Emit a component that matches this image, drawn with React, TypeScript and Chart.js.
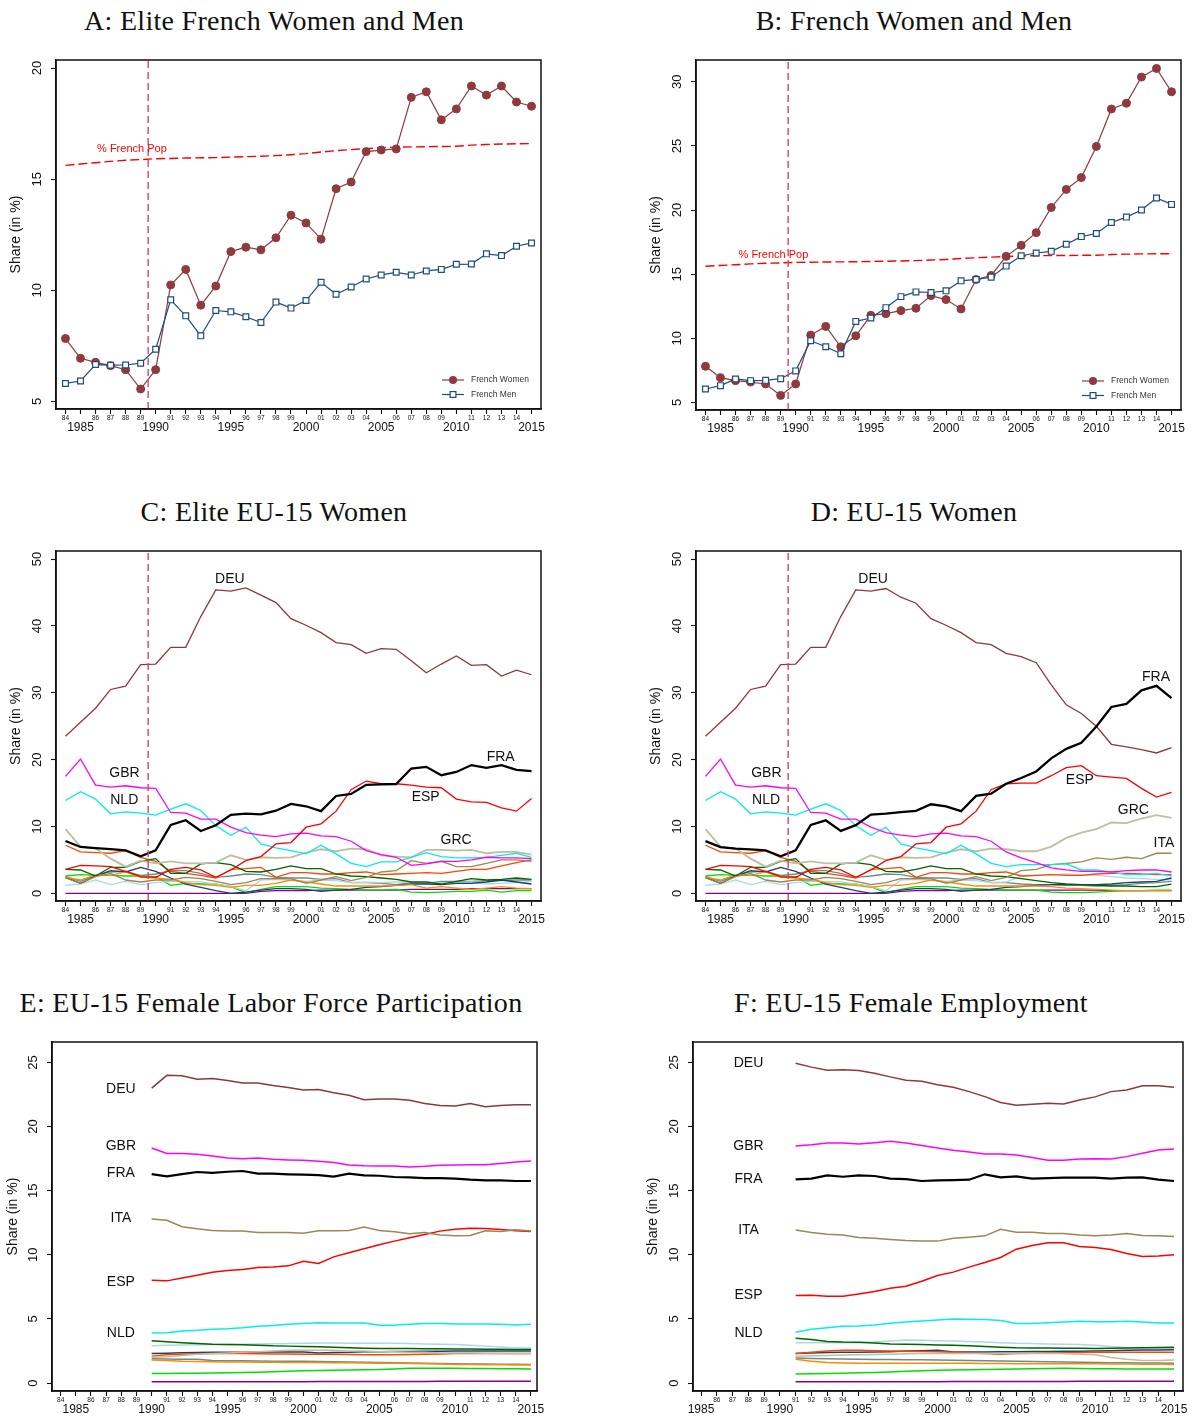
import React, { useEffect, useRef } from "react";
import { Chart, registerables } from "chart.js";
Chart.register(...registerables);

const FONT = '"Liberation Sans", Arial, Helvetica, sans-serif';

// ---------- x categories ----------
const YEARS = [1984, 1985, 1986, 1987, 1988, 1989, 1990, 1991, 1992, 1993, 1994, 1995, 1996, 1997, 1998, 1999, 2000, 2001, 2002, 2003, 2004, 2005, 2006, 2007, 2008, 2009, 2010, 2011, 2012, 2013, 2014, 2015];
const YEARS_E = [1990, 1991, 1992, 1993, 1994, 1995, 1996, 1997, 1998, 1999, 2000, 2001, 2002, 2003, 2004, 2005, 2006, 2007, 2008, 2009, 2010, 2011, 2012, 2013, 2014, 2015];
const YEARS_F = [1991, 1992, 1993, 1994, 1995, 1996, 1997, 1998, 1999, 2000, 2001, 2002, 2003, 2004, 2005, 2006, 2007, 2008, 2009, 2010, 2011, 2012, 2013, 2014, 2015];
const AXIS_YEARS_F = [1985, 1986, 1987, 1988, 1989, 1990, 1991, 1992, 1993, 1994, 1995, 1996, 1997, 1998, 1999, 2000, 2001, 2002, 2003, 2004, 2005, 2006, 2007, 2008, 2009, 2010, 2011, 2012, 2013, 2014, 2015];

// ---------- y tick labels ----------
const TICKS_A = [5, 10, 15, 20];
const TICKS_B = [5, 10, 15, 20, 25, 30];
const TICKS_CD = [0, 10, 20, 30, 40, 50];
const TICKS_EF = [0, 5, 10, 15, 20, 25];
const VLINE_YEAR = 1989.5;

// ---------- Panel A / B ----------
const A_WOMEN = [7.83, 6.94, 6.76, 6.61, 6.43, 5.56, 6.43, 10.24, 10.94, 9.33, 10.19, 11.74, 11.94, 11.82, 12.36, 13.38, 13.03, 12.3, 14.57, 14.87, 16.24, 16.31, 16.36, 18.68, 18.93, 17.67, 18.16, 19.19, 18.78, 19.19, 18.47, 18.28];
const A_MEN = [5.81, 5.92, 6.66, 6.63, 6.64, 6.72, 7.35, 9.57, 8.85, 7.95, 9.09, 9.03, 8.81, 8.55, 9.47, 9.2, 9.54, 10.36, 9.82, 10.15, 10.51, 10.69, 10.81, 10.69, 10.87, 10.94, 11.17, 11.18, 11.64, 11.56, 11.98, 12.13];
const FRENCH_POP = [15.62, 15.68, 15.74, 15.8, 15.85, 15.88, 15.92, 15.93, 15.95, 15.96, 15.97, 15.99, 16.01, 16.03, 16.06, 16.1, 16.15, 16.22, 16.28, 16.33, 16.37, 16.42, 16.44, 16.45, 16.46, 16.47, 16.48, 16.53, 16.56, 16.58, 16.59, 16.6];
const B_WOMEN = [7.82, 6.93, 6.7, 6.59, 6.44, 5.55, 6.44, 10.25, 10.93, 9.34, 10.2, 11.79, 11.92, 12.16, 12.34, 13.33, 13.02, 12.29, 14.59, 14.9, 16.39, 17.25, 18.24, 20.2, 21.61, 22.53, 24.96, 27.88, 28.33, 30.37, 31.04, 29.22];
const B_MEN = [6.05, 6.31, 6.83, 6.7, 6.72, 6.85, 7.46, 9.81, 9.34, 8.79, 11.32, 11.58, 12.39, 13.25, 13.62, 13.57, 13.7, 14.48, 14.59, 14.77, 15.63, 16.44, 16.65, 16.78, 17.33, 17.93, 18.17, 19.03, 19.45, 20.0, 20.94, 20.44];

// ---------- Panel C (elite) ----------
const C_DEU = [23.5, 25.6, 27.7, 30.5, 31.0, 34.2, 34.3, 36.8, 36.8, 41.4, 45.4, 45.2, 45.7, 44.6, 43.5, 41.1, 40.1, 39.0, 37.5, 37.2, 35.9, 36.6, 36.5, 34.8, 33.0, 34.3, 35.5, 34.1, 34.2, 32.5, 33.4, 32.7];
const C_FRA = A_WOMEN;
const C_ESP = [3.6, 4.2, 4.1, 4.0, 3.3, 2.5, 2.4, 3.6, 3.9, 3.5, 2.4, 3.5, 4.9, 5.5, 7.4, 7.6, 9.9, 10.4, 12.3, 15.5, 16.8, 16.4, 16.4, 16.2, 15.9, 15.8, 14.1, 13.7, 13.6, 12.8, 12.3, 14.2];
const C_GBR = [17.5, 20.1, 16.2, 15.9, 16.1, 15.8, 15.7, 12.1, 12.0, 11.1, 11.1, 9.9, 9.1, 8.7, 8.5, 8.9, 9.0, 8.6, 8.5, 7.8, 6.4, 5.8, 5.4, 4.2, 4.4, 4.8, 4.8, 5.0, 5.4, 5.3, 5.3, 5.2];
const C_NLD = [13.9, 15.2, 14.1, 11.9, 12.2, 12.0, 11.7, 12.6, 13.4, 12.4, 10.1, 8.7, 9.9, 7.4, 6.8, 6.4, 5.9, 7.2, 5.9, 4.5, 4.0, 4.7, 4.7, 5.4, 6.1, 5.5, 5.3, 5.3, 5.4, 5.7, 6.0, 5.4];
const C_GRC = [9.6, 7.0, 6.7, 5.2, 4.0, 4.9, 4.5, 4.8, 4.5, 4.5, 4.6, 5.7, 5.0, 5.4, 5.3, 5.4, 6.1, 6.6, 6.3, 6.7, 6.6, 5.7, 5.5, 5.4, 6.5, 6.5, 6.4, 6.5, 6.0, 6.2, 6.2, 5.8];
const C_ITA = [2.3, 1.5, 2.5, 3.0, 2.0, 1.7, 2.0, 2.0, 2.4, 2.2, 1.8, 1.3, 1.6, 2.2, 2.2, 2.2, 1.5, 2.0, 2.5, 1.9, 2.4, 3.2, 3.4, 4.9, 4.5, 4.8, 4.0, 4.0, 4.5, 5.0, 5.0, 4.8];
const C_DKGREEN = [3.6, 3.5, 2.6, 3.9, 3.9, 4.8, 5.2, 3.0, 3.0, 4.4, 4.6, 4.3, 3.3, 3.2, 3.6, 4.1, 3.7, 3.7, 2.9, 2.6, 2.5, 2.3, 2.1, 1.7, 1.7, 1.4, 1.8, 2.2, 2.0, 2.1, 2.3, 2.1];
const C_ORANGERED = [7.2, 6.2, 6.1, 6.0, 6.4, 5.4, 4.8, 3.3, 3.0, 2.7, 2.3, 3.6, 3.7, 3.9, 2.4, 3.1, 3.1, 2.9, 2.9, 3.1, 3.2, 2.8, 2.9, 3.0, 3.1, 3.0, 3.3, 3.6, 3.6, 4.1, 4.6, 5.0];
const C_ORANGE = [2.4, 2.0, 2.8, 2.7, 3.2, 2.4, 2.3, 2.1, 1.6, 1.3, 1.2, 0.9, 1.2, 1.2, 1.5, 2.0, 1.7, 1.4, 1.1, 1.1, 1.1, 1.1, 1.2, 1.3, 0.8, 1.0, 0.8, 0.6, 0.8, 1.0, 0.8, 0.7];
const C_NAVY = [2.4, 1.5, 2.6, 3.4, 3.2, 3.9, 3.3, 2.3, 1.4, 0.9, 0.4, 0.0, 0.2, 0.5, 0.7, 0.7, 0.6, 0.3, 0.5, 0.6, 0.9, 1.0, 1.2, 1.4, 1.4, 1.3, 1.5, 1.5, 1.7, 2.0, 1.7, 1.4];
const C_LTBLUE = [1.2, 1.4, 2.0, 1.3, 1.8, 1.3, 1.6, 1.8, 1.8, 1.7, 1.4, 1.0, 0.4, 2.0, 2.1, 2.0, 1.8, 2.0, 1.9, 1.6, 1.7, 1.6, 1.7, 1.7, 1.6, 1.6, 1.6, 1.7, 1.4, 1.5, 1.6, 1.8];
const C_TEAL = [2.5, 1.8, 2.7, 3.2, 3.3, 2.7, 2.9, 3.4, 3.4, 3.0, 2.4, 2.6, 2.9, 2.8, 2.4, 2.3, 2.3, 2.1, 2.2, 1.6, 1.6, 1.5, 1.3, 1.6, 1.5, 1.8, 1.8, 1.8, 1.9, 1.9, 2.0, 2.0];
const C_LIME = [2.6, 2.8, 2.7, 2.7, 2.6, 2.6, 2.5, 1.2, 1.5, 1.4, 1.4, 1.0, 0.1, 0.6, 1.0, 1.0, 1.0, 0.8, 0.7, 0.6, 0.5, 0.5, 0.6, 0.2, 0.1, 0.2, 0.3, 0.3, 0.5, 0.2, 0.4, 0.4];
const C_PURPLE = [0, 0, 0, 0, 0, 0, 0, 0, 0, 0, 0, 0, 0, 0.3, 0.4, 0.4, 0.4, 0.5, 0.5, 0.5, 0.5, 0.5, 0.5, 0.6, 0.6, 0.6, 0.6, 0.7, 0.7, 0.7, 0.7, 0.7];

// ---------- Panel D (all) ----------
const D_DEU = [23.5, 25.6, 27.7, 30.5, 31.0, 34.2, 34.3, 36.8, 36.8, 41.4, 45.4, 45.2, 45.6, 44.3, 43.4, 41.1, 40.1, 39.0, 37.5, 37.2, 35.9, 35.4, 34.5, 31.2, 28.2, 26.9, 25.0, 22.3, 21.9, 21.5, 21.0, 21.8];
const D_FRA = B_WOMEN;
const D_ESP = [3.6, 4.2, 4.1, 4.0, 3.3, 2.5, 2.4, 3.6, 3.9, 3.5, 2.4, 3.5, 4.9, 5.5, 7.4, 7.6, 9.9, 10.4, 12.3, 15.5, 16.4, 16.5, 16.5, 17.6, 18.8, 19.1, 17.6, 17.4, 17.2, 15.7, 14.4, 15.1];
const D_GBR = [17.5, 20.1, 16.2, 15.9, 16.1, 15.8, 15.7, 12.1, 12.0, 11.1, 11.1, 9.9, 9.1, 8.7, 8.5, 8.9, 9.0, 8.6, 8.5, 7.8, 6.2, 5.3, 4.6, 3.8, 3.5, 3.3, 3.3, 3.2, 3.4, 3.5, 3.5, 3.2];
const D_NLD = [13.9, 15.2, 14.1, 11.9, 12.2, 12.0, 11.7, 12.6, 13.4, 12.4, 10.1, 8.7, 9.9, 7.4, 6.8, 6.4, 5.9, 7.2, 5.9, 4.5, 4.0, 4.3, 4.3, 4.3, 4.4, 3.5, 3.5, 3.2, 2.8, 2.8, 3.0, 2.6];
const D_GRC = [9.6, 7.0, 6.7, 5.2, 4.0, 4.9, 4.5, 4.8, 4.5, 4.5, 4.6, 5.7, 5.0, 5.4, 5.3, 5.4, 6.1, 6.6, 6.3, 6.7, 6.6, 6.3, 6.3, 7.0, 8.3, 9.1, 9.6, 10.6, 10.5, 11.2, 11.7, 11.3];
const D_ITA = [2.3, 1.5, 2.5, 3.0, 2.0, 1.7, 2.0, 2.0, 2.4, 2.2, 1.8, 1.3, 1.6, 2.2, 2.2, 2.2, 1.5, 2.0, 2.5, 1.9, 2.4, 3.4, 3.6, 4.3, 4.5, 4.7, 5.3, 5.1, 5.4, 5.2, 6.0, 6.0];
const D_DKGREEN = [3.6, 3.5, 2.6, 3.9, 3.9, 4.8, 5.2, 3.0, 3.0, 4.4, 4.6, 4.3, 3.3, 3.2, 3.6, 4.1, 3.7, 3.7, 2.9, 2.6, 2.5, 2.2, 1.9, 1.6, 1.4, 1.3, 1.2, 1.1, 1.1, 1.0, 1.0, 1.4];
const D_ORANGERED = [7.2, 6.2, 6.1, 6.0, 6.4, 5.4, 4.8, 3.3, 3.0, 2.7, 2.3, 3.6, 3.7, 3.9, 2.4, 3.1, 3.1, 2.9, 2.9, 3.1, 3.2, 2.6, 2.7, 2.8, 2.7, 2.7, 2.9, 3.0, 3.0, 2.9, 2.8, 2.8];
const D_ORANGE = [2.4, 2.0, 2.8, 2.7, 3.2, 2.4, 2.3, 2.1, 1.6, 1.3, 1.2, 0.9, 1.2, 1.2, 1.5, 2.0, 1.7, 1.4, 1.1, 1.1, 1.1, 1.1, 1.1, 1.0, 0.8, 0.7, 0.6, 0.5, 0.4, 0.4, 0.4, 0.4];
const D_NAVY = [2.4, 1.5, 2.6, 3.4, 3.2, 3.9, 3.3, 2.3, 1.4, 0.9, 0.4, 0.0, 0.2, 0.5, 0.7, 0.7, 0.6, 0.3, 0.5, 0.6, 0.9, 1.0, 1.2, 1.3, 1.3, 1.3, 1.3, 1.4, 1.6, 1.7, 1.8, 2.3];
const D_LTBLUE = [1.2, 1.4, 2.0, 1.3, 1.8, 1.3, 1.6, 1.8, 1.8, 1.7, 1.4, 1.0, 0.4, 2.0, 2.1, 2.0, 1.8, 2.0, 1.9, 1.6, 1.7, 2.6, 2.7, 2.8, 2.9, 2.8, 2.7, 2.5, 2.3, 2.2, 2.1, 2.0];
const D_TEAL = [2.5, 1.8, 2.7, 3.2, 3.3, 2.7, 2.9, 3.4, 3.4, 3.0, 2.4, 2.6, 2.9, 2.8, 2.4, 2.3, 2.3, 2.1, 2.2, 1.6, 1.6, 1.4, 1.3, 1.3, 1.2, 1.2, 1.1, 1.2, 1.3, 1.5, 1.6, 1.8];
const D_LIME = [2.6, 2.8, 2.7, 2.7, 2.6, 2.6, 2.5, 1.2, 1.5, 1.4, 1.4, 1.0, 0.1, 0.6, 1.0, 1.0, 1.0, 0.8, 0.7, 0.6, 0.5, 0.5, 0.5, 0.2, 0.1, 0.1, 0.2, 0.3, 0.4, 0.4, 0.5, 0.5];
const D_PURPLE = [0, 0, 0, 0, 0, 0, 0, 0, 0, 0, 0, 0, 0, 0.3, 0.4, 0.4, 0.4, 0.5, 0.5, 0.5, 0.5, 0.5, 0.5, 0.5, 0.5, 0.5, 0.5, 0.4, 0.4, 0.4, 0.4, 0.4];

// ---------- Panel E (labor force participation, 1990-2015) ----------
const E_DEU = [23.0, 24.0, 23.96, 23.7, 23.75, 23.6, 23.4, 23.4, 23.2, 23.05, 22.85, 22.9, 22.65, 22.45, 22.1, 22.15, 22.15, 22.05, 21.8, 21.65, 21.6, 21.8, 21.55, 21.65, 21.7, 21.7];
const E_GBR = [18.33, 17.9, 17.9, 17.85, 17.7, 17.55, 17.5, 17.55, 17.45, 17.4, 17.37, 17.3, 17.2, 17.0, 16.95, 16.93, 16.93, 16.85, 16.9, 16.98, 17.0, 17.03, 17.03, 17.13, 17.24, 17.32];
const E_FRA = [16.3, 16.12, 16.3, 16.46, 16.4, 16.48, 16.54, 16.33, 16.33, 16.28, 16.25, 16.22, 16.1, 16.33, 16.2, 16.17, 16.07, 16.04, 15.99, 15.99, 15.94, 15.86, 15.81, 15.81, 15.76, 15.76];
const E_ITA = [12.79, 12.7, 12.19, 12.03, 11.9, 11.85, 11.85, 11.74, 11.74, 11.74, 11.69, 11.88, 11.88, 11.9, 12.16, 11.9, 11.8, 11.64, 11.74, 11.54, 11.48, 11.51, 11.88, 11.82, 11.95, 11.85];
const E_ESP = [8.02, 7.97, 8.2, 8.41, 8.65, 8.78, 8.85, 9.01, 9.06, 9.14, 9.5, 9.32, 9.84, 10.16, 10.47, 10.78, 11.07, 11.33, 11.59, 11.85, 12.0, 12.08, 12.06, 11.98, 11.88, 11.82];
const E_NLD = [3.9, 3.93, 4.06, 4.11, 4.19, 4.24, 4.32, 4.43, 4.48, 4.58, 4.64, 4.71, 4.69, 4.69, 4.69, 4.5, 4.5, 4.58, 4.64, 4.64, 4.61, 4.61, 4.61, 4.58, 4.53, 4.58];
const E_DKGREEN = [3.3, 3.22, 3.15, 3.08, 3.02, 3.0, 2.98, 2.95, 2.9, 2.88, 2.85, 2.84, 2.8, 2.76, 2.72, 2.7, 2.7, 2.69, 2.68, 2.67, 2.66, 2.65, 2.64, 2.63, 2.62, 2.62];
const E_LTBLUE = [2.9, 2.95, 2.97, 2.98, 3.0, 3.0, 3.02, 3.05, 3.07, 3.09, 3.1, 3.12, 3.12, 3.11, 3.1, 3.1, 3.1, 3.08, 3.05, 3.02, 3.0, 2.95, 2.88, 2.82, 2.76, 2.72];
const E_NAVY = [2.3, 2.33, 2.36, 2.38, 2.4, 2.4, 2.41, 2.42, 2.42, 2.43, 2.43, 2.35, 2.38, 2.4, 2.45, 2.45, 2.46, 2.47, 2.48, 2.49, 2.5, 2.5, 2.5, 2.5, 2.5, 2.5];
const E_ORANGERED = [2.1, 2.2, 2.25, 2.28, 2.3, 2.3, 2.3, 2.28, 2.27, 2.26, 2.25, 2.25, 2.24, 2.22, 2.2, 2.2, 2.21, 2.23, 2.25, 2.27, 2.3, 2.3, 2.3, 2.3, 2.3, 2.3];
const E_GRC = [2.0, 2.05, 2.15, 2.25, 2.3, 2.35, 2.4, 2.45, 2.5, 2.55, 2.55, 2.55, 2.55, 2.5, 2.5, 2.45, 2.45, 2.4, 2.4, 2.35, 2.35, 2.35, 2.32, 2.3, 2.3, 2.3];
const E_TEAL = [1.9, 1.88, 1.86, 1.85, 1.75, 1.74, 1.73, 1.72, 1.71, 1.7, 1.7, 1.68, 1.66, 1.64, 1.62, 1.6, 1.58, 1.56, 1.54, 1.52, 1.5, 1.49, 1.48, 1.47, 1.46, 1.45];
const E_ORANGE = [1.8, 1.75, 1.7, 1.68, 1.66, 1.65, 1.64, 1.63, 1.62, 1.61, 1.6, 1.6, 1.59, 1.58, 1.56, 1.55, 1.54, 1.52, 1.5, 1.48, 1.45, 1.44, 1.43, 1.42, 1.41, 1.4];
const E_LIME = [0.75, 0.75, 0.76, 0.77, 0.78, 0.8, 0.82, 0.85, 0.88, 0.92, 0.95, 0.97, 0.99, 1.01, 1.03, 1.05, 1.1, 1.15, 1.15, 1.15, 1.15, 1.14, 1.13, 1.12, 1.11, 1.1];
const E_PURPLE = [0.1, 0.1, 0.1, 0.1, 0.1, 0.1, 0.1, 0.1, 0.1, 0.11, 0.11, 0.12, 0.12, 0.12, 0.12, 0.12, 0.13, 0.13, 0.13, 0.14, 0.14, 0.14, 0.15, 0.15, 0.15, 0.15];

// ---------- Panel F (employment, 1991-2015) ----------
const F_DEU = [24.95, 24.64, 24.4, 24.43, 24.38, 24.17, 23.88, 23.62, 23.54, 23.26, 23.07, 22.73, 22.34, 21.88, 21.67, 21.74, 21.82, 21.77, 22.08, 22.32, 22.73, 22.86, 23.18, 23.18, 23.07];
const F_GBR = [18.49, 18.59, 18.72, 18.72, 18.65, 18.75, 18.85, 18.72, 18.52, 18.33, 18.15, 18.02, 17.86, 17.86, 17.79, 17.6, 17.37, 17.37, 17.47, 17.5, 17.47, 17.66, 17.92, 18.18, 18.26];
const F_FRA = [15.89, 15.94, 16.2, 16.09, 16.2, 16.15, 15.94, 15.91, 15.76, 15.81, 15.83, 15.86, 16.28, 16.04, 16.12, 15.94, 15.99, 16.02, 16.02, 16.02, 15.94, 16.02, 16.04, 15.86, 15.76];
const F_ITA = [11.93, 11.74, 11.61, 11.54, 11.35, 11.3, 11.2, 11.12, 11.07, 11.07, 11.3, 11.38, 11.48, 12.0, 11.77, 11.77, 11.67, 11.67, 11.54, 11.48, 11.54, 11.67, 11.51, 11.48, 11.43];
const F_ESP = [6.82, 6.85, 6.77, 6.77, 6.95, 7.14, 7.4, 7.55, 7.94, 8.39, 8.65, 9.04, 9.4, 9.79, 10.44, 10.73, 10.94, 10.94, 10.65, 10.57, 10.42, 10.1, 9.87, 9.9, 10.0];
const F_NLD = [3.96, 4.19, 4.32, 4.43, 4.45, 4.53, 4.66, 4.77, 4.84, 4.92, 5.0, 4.97, 4.95, 4.87, 4.64, 4.64, 4.71, 4.77, 4.82, 4.79, 4.79, 4.82, 4.77, 4.69, 4.69];
const F_DKGREEN = [3.5, 3.4, 3.25, 3.2, 3.18, 3.12, 3.05, 3.02, 3.0, 2.97, 2.95, 2.9, 2.85, 2.8, 2.75, 2.74, 2.73, 2.72, 2.71, 2.7, 2.72, 2.74, 2.76, 2.78, 2.8];
const F_LTBLUE = [3.15, 3.15, 3.15, 3.15, 3.15, 3.2, 3.28, 3.35, 3.33, 3.3, 3.28, 3.25, 3.2, 3.15, 3.1, 3.08, 3.05, 3.03, 3.0, 2.95, 2.85, 2.78, 2.75, 2.72, 2.7];
const F_NAVY = [2.3, 2.35, 2.38, 2.4, 2.4, 2.42, 2.45, 2.5, 2.52, 2.55, 2.42, 2.42, 2.43, 2.44, 2.45, 2.46, 2.47, 2.48, 2.49, 2.5, 2.52, 2.55, 2.57, 2.58, 2.6];
const F_ORANGERED = [2.3, 2.4, 2.5, 2.55, 2.55, 2.52, 2.5, 2.48, 2.46, 2.45, 2.4, 2.35, 2.3, 2.25, 2.3, 2.32, 2.34, 2.36, 2.38, 2.4, 2.4, 2.4, 2.4, 2.4, 2.4];
const F_GRC = [2.1, 2.12, 2.15, 2.18, 2.2, 2.22, 2.25, 2.28, 2.3, 2.3, 2.3, 2.3, 2.3, 2.3, 2.3, 2.3, 2.3, 2.3, 2.25, 2.2, 2.0, 1.85, 1.75, 1.75, 1.8];
const F_TEAL = [1.95, 1.92, 1.9, 1.88, 1.85, 1.84, 1.83, 1.82, 1.81, 1.8, 1.78, 1.76, 1.74, 1.72, 1.7, 1.68, 1.66, 1.64, 1.62, 1.6, 1.59, 1.58, 1.57, 1.56, 1.55];
const F_ORANGE = [1.85, 1.7, 1.6, 1.57, 1.55, 1.55, 1.55, 1.55, 1.55, 1.55, 1.55, 1.54, 1.53, 1.52, 1.5, 1.5, 1.5, 1.5, 1.5, 1.5, 1.49, 1.48, 1.47, 1.46, 1.45];
const F_LIME = [0.7, 0.72, 0.74, 0.77, 0.8, 0.83, 0.87, 0.92, 0.96, 1.0, 1.02, 1.04, 1.06, 1.08, 1.1, 1.12, 1.14, 1.15, 1.14, 1.12, 1.11, 1.1, 1.1, 1.1, 1.1];
const F_PURPLE = [0.1, 0.1, 0.1, 0.1, 0.1, 0.1, 0.1, 0.1, 0.11, 0.11, 0.12, 0.12, 0.12, 0.12, 0.12, 0.13, 0.13, 0.13, 0.14, 0.14, 0.14, 0.15, 0.15, 0.15, 0.15];

// ---------- colours ----------
const COL = {
  women: "#8E3A3F", men: "#1E4D7B", pop: "#FF0000", vline: "#D9456A",
  DEU: "#8B3A3A", FRA: "#000000", ESP: "#FF0000", GBR: "#FF00FF", NLD: "#00EEEE",
  GRC: "#BEBEA2", ITA: "#9C8654", dkgreen: "#006400", orangered: "#FF4500", orange: "#FF8C00",
  navy: "#1C3F6E", ltblue: "#ADD8E6", teal: "#6E8B8B", lime: "#00E000", purple: "#8B008B",
};

type Series = { xs: number[]; ys: number[]; color: string; width: number; kind?: "circle" | "square"; dash?: number[] };
type Txt = { text: string; x: number; y: number; color?: string; size?: number; align?: CanvasTextAlign };
type Rect = { x: number; y: number; w: number; h: number };
type Spec = {
  title: string; titleCenter: number; titleTop: number;
  canvas: Rect; area: { l: number; t: number; r: number; b: number };
  xMin: number; xMax: number; yMin: number; yMax: number;
  xTicks: number[]; yTicks: number[]; yTitleX: number;
  series: Series[]; texts: Txt[]; vline?: boolean;
  legend?: { text: string; color: string; kind: "circle" | "square" }[];
};

const line = (xs: number[], ys: number[], color: string, width: number, extra: Partial<Series> = {}): Series => ({ xs, ys, color, width, ...extra });

function minorSet(xs: number[], v: Record<string, number[]>, w: number): Series[] {
  return [
    line(xs, v.dkgreen, COL.dkgreen, w),
    line(xs, v.orangered, COL.orangered, w),
    line(xs, v.orange, COL.orange, w),
    line(xs, v.navy, COL.navy, w),
    line(xs, v.ltblue, COL.ltblue, w),
    line(xs, v.teal, COL.teal, w),
    line(xs, v.lime, COL.lime, w),
    line(xs, v.purple, COL.purple, w),
  ];
}

const SPECS: Spec[] = [
  {
    title: "A: Elite French Women and Men", titleCenter: 274, titleTop: 7,
    canvas: { x: 0, y: 40, w: 596, h: 410 }, area: { l: 56, t: 60, r: 541, b: 409 },
    xMin: 1983.37, xMax: 2015.63, yMin: 4.66, yMax: 20.36, xTicks: YEARS, yTicks: TICKS_A, yTitleX: 16,
    vline: true,
    series: [
      line(YEARS, A_MEN, COL.men, 1.2, { kind: "square" }),
      line(YEARS, A_WOMEN, COL.women, 1.2, { kind: "circle" }),
      line(YEARS, FRENCH_POP, COL.pop, 1.4, { dash: [9, 4] }),
    ],
    texts: [{ text: "% French Pop", x: 1986.1, y: 16.37, color: COL.pop, size: 11, align: "left" }],
    legend: [{ text: "French Women", color: COL.women, kind: "circle" }, { text: "French Men", color: COL.men, kind: "square" }],
  },
  {
    title: "B: French Women and Men", titleCenter: 914, titleTop: 7,
    canvas: { x: 596, y: 40, w: 596, h: 410 }, area: { l: 696, t: 60, r: 1181, b: 410 },
    xMin: 1983.37, xMax: 2015.63, yMin: 4.41, yMax: 31.7, xTicks: YEARS, yTicks: TICKS_B, yTitleX: 656,
    vline: true,
    series: [
      line(YEARS, B_MEN, COL.men, 1.2, { kind: "square" }),
      line(YEARS, B_WOMEN, COL.women, 1.2, { kind: "circle" }),
      line(YEARS, FRENCH_POP, COL.pop, 1.4, { dash: [9, 4] }),
    ],
    texts: [{ text: "% French Pop", x: 1986.2, y: 16.49, color: COL.pop, size: 11, align: "left" }],
    legend: [{ text: "French Women", color: COL.women, kind: "circle" }, { text: "French Men", color: COL.men, kind: "square" }],
  },
  {
    title: "C: Elite EU-15 Women", titleCenter: 274, titleTop: 498,
    canvas: { x: 0, y: 530, w: 596, h: 410 }, area: { l: 56, t: 551, r: 541, b: 901 },
    xMin: 1983.37, xMax: 2015.63, yMin: -1.14, yMax: 51.21, xTicks: YEARS, yTicks: TICKS_CD, yTitleX: 16,
    vline: true,
    series: [
      line(YEARS, C_FRA, COL.FRA, 2.3),
      line(YEARS, C_DEU, COL.DEU, 1.3),
      line(YEARS, C_ESP, COL.ESP, 1.3),
      line(YEARS, C_GBR, COL.GBR, 1.3),
      line(YEARS, C_NLD, COL.NLD, 1.3),
      line(YEARS, C_GRC, COL.GRC, 1.8),
      line(YEARS, C_ITA, COL.ITA, 1.3),
      ...minorSet(YEARS, { dkgreen: C_DKGREEN, orangered: C_ORANGERED, orange: C_ORANGE, navy: C_NAVY, ltblue: C_LTBLUE, teal: C_TEAL, lime: C_LIME, purple: C_PURPLE }, 1.3),
    ],
    texts: [
      { text: "DEU", x: 1994.93, y: 46.95 }, { text: "GBR", x: 1987.92, y: 18.04 }, { text: "NLD", x: 1987.91, y: 13.93 },
      { text: "FRA", x: 2012.95, y: 20.4 }, { text: "ESP", x: 2007.96, y: 14.37 }, { text: "GRC", x: 2009.98, y: 7.91 },
    ],
  },
  {
    title: "D: EU-15 Women", titleCenter: 914, titleTop: 498,
    canvas: { x: 596, y: 530, w: 596, h: 410 }, area: { l: 696, t: 551, r: 1181, b: 901 },
    xMin: 1983.37, xMax: 2015.63, yMin: -1.14, yMax: 51.21, xTicks: YEARS, yTicks: TICKS_CD, yTitleX: 656,
    vline: true,
    series: [
      line(YEARS, D_FRA, COL.FRA, 2.3),
      line(YEARS, D_DEU, COL.DEU, 1.3),
      line(YEARS, D_ESP, COL.ESP, 1.3),
      line(YEARS, D_GBR, COL.GBR, 1.3),
      line(YEARS, D_NLD, COL.NLD, 1.3),
      line(YEARS, D_GRC, COL.GRC, 1.8),
      line(YEARS, D_ITA, COL.ITA, 1.3),
      ...minorSet(YEARS, { dkgreen: D_DKGREEN, orangered: D_ORANGERED, orange: D_ORANGE, navy: D_NAVY, ltblue: D_LTBLUE, teal: D_TEAL, lime: D_LIME, purple: D_PURPLE }, 1.3),
    ],
    texts: [
      { text: "DEU", x: 1995.15, y: 46.95 }, { text: "FRA", x: 2013.97, y: 32.4 }, { text: "ESP", x: 2008.9, y: 16.93 },
      { text: "GBR", x: 1988.05, y: 18.04 }, { text: "NLD", x: 1988.03, y: 13.93 }, { text: "GRC", x: 2012.46, y: 12.47 },
      { text: "ITA", x: 2014.49, y: 7.5 },
    ],
  },
  {
    title: "E: EU-15 Female Labor Force Participation", titleCenter: 271, titleTop: 989,
    canvas: { x: 0, y: 1022, w: 596, h: 394 }, area: { l: 52, t: 1042, r: 537, b: 1391 },
    xMin: 1983.43, xMax: 2015.4, yMin: -0.62, yMax: 26.6, xTicks: YEARS, yTicks: TICKS_EF, yTitleX: 13,
    series: [
      line(YEARS_E, E_FRA, COL.FRA, 2.2),
      line(YEARS_E, E_DEU, COL.DEU, 1.5),
      line(YEARS_E, E_GBR, COL.GBR, 1.5),
      line(YEARS_E, E_ITA, COL.ITA, 1.5),
      line(YEARS_E, E_ESP, COL.ESP, 1.5),
      line(YEARS_E, E_NLD, COL.NLD, 1.5),
      line(YEARS_E, E_GRC, COL.GRC, 1.5),
      ...minorSet(YEARS_E, { dkgreen: E_DKGREEN, orangered: E_ORANGERED, orange: E_ORANGE, navy: E_NAVY, ltblue: E_LTBLUE, teal: E_TEAL, lime: E_LIME, purple: E_PURPLE }, 1.5),
    ],
    texts: [
      { text: "DEU", x: 1987.97, y: 22.96 }, { text: "GBR", x: 1987.97, y: 18.44 }, { text: "FRA", x: 1987.97, y: 16.38 },
      { text: "ITA", x: 1987.97, y: 12.85 }, { text: "ESP", x: 1987.97, y: 7.89 }, { text: "NLD", x: 1987.97, y: 3.86 },
    ],
  },
  {
    title: "F: EU-15 Female Employment", titleCenter: 911, titleTop: 989,
    canvas: { x: 596, y: 1022, w: 596, h: 394 }, area: { l: 693, t: 1042, r: 1183, b: 1391 },
    xMin: 1984.49, xMax: 2015.57, yMin: -0.62, yMax: 26.6, xTicks: AXIS_YEARS_F, yTicks: TICKS_EF, yTitleX: 653,
    series: [
      line(YEARS_F, F_FRA, COL.FRA, 2.2),
      line(YEARS_F, F_DEU, COL.DEU, 1.5),
      line(YEARS_F, F_GBR, COL.GBR, 1.5),
      line(YEARS_F, F_ITA, COL.ITA, 1.5),
      line(YEARS_F, F_ESP, COL.ESP, 1.5),
      line(YEARS_F, F_NLD, COL.NLD, 1.5),
      line(YEARS_F, F_GRC, COL.GRC, 1.5),
      ...minorSet(YEARS_F, { dkgreen: F_DKGREEN, orangered: F_ORANGERED, orange: F_ORANGE, navy: F_NAVY, ltblue: F_LTBLUE, teal: F_TEAL, lime: F_LIME, purple: F_PURPLE }, 1.5),
    ],
    texts: [
      { text: "DEU", x: 1988.01, y: 24.95 }, { text: "GBR", x: 1988.01, y: 18.44 }, { text: "FRA", x: 1988.01, y: 15.94 },
      { text: "ITA", x: 1988.01, y: 11.91 }, { text: "ESP", x: 1988.01, y: 6.89 }, { text: "NLD", x: 1988.01, y: 3.86 },
    ],
  },
];

const YW = 6;
const XH = 6;

function drawMarker(ctx: CanvasRenderingContext2D, kind: string, x: number, y: number, color: string) {
  if (kind === "circle") {
    ctx.beginPath();
    ctx.arc(x, y, 4, 0, Math.PI * 2);
    ctx.fillStyle = color;
    ctx.fill();
  } else {
    ctx.fillStyle = "#fff";
    ctx.fillRect(x - 2.9, y - 2.9, 5.8, 5.8);
    ctx.strokeStyle = color;
    ctx.lineWidth = 1.2;
    ctx.strokeRect(x - 2.9, y - 2.9, 5.8, 5.8);
  }
}

function decorPlugin(spec: Spec) {
  return {
    id: "decor",
    afterDraw(chart: any) {
      const { ctx, chartArea: a, scales } = chart;
      const sx = scales.x;
      const sy = scales.y;
      ctx.save();
      // plot box
      ctx.strokeStyle = "#111";
      ctx.lineWidth = 1.5;
      ctx.strokeRect(a.left, a.top, a.right - a.left, a.bottom - a.top);
      // y tick labels (rotated, Stata style)
      ctx.fillStyle = "#111";
      ctx.font = `13px ${FONT}`;
      ctx.textAlign = "center";
      ctx.textBaseline = "bottom";
      for (const v of spec.yTicks) {
        const py = sy.getPixelForValue(v);
        ctx.save();
        ctx.translate(a.left - 12, py);
        ctx.rotate(-Math.PI / 2);
        ctx.fillText(String(v), 0, 0);
        ctx.restore();
      }
      // x tick labels
      ctx.textBaseline = "middle";
      for (const yr of spec.xTicks) {
        const px = sx.getPixelForValue(yr);
        if (yr % 5 === 0) {
          ctx.font = `12px ${FONT}`;
          ctx.fillText(String(yr), px, a.bottom + 19);
        } else {
          ctx.font = `6.5px ${FONT}`;
          ctx.fillText(String(yr % 100).padStart(2, "0"), px, a.bottom + 9);
        }
      }
      // y axis title
      ctx.font = `14px ${FONT}`;
      ctx.save();
      ctx.translate(spec.yTitleX - spec.canvas.x, (a.top + a.bottom) / 2);
      ctx.rotate(-Math.PI / 2);
      ctx.textBaseline = "middle";
      ctx.fillText("Share (in %)", 0, 0);
      ctx.restore();
      // text labels placed in data coordinates
      for (const t of spec.texts) {
        ctx.font = `${t.size ?? 14}px ${FONT}`;
        ctx.fillStyle = t.color ?? "#111";
        ctx.textAlign = t.align ?? "center";
        ctx.textBaseline = "middle";
        ctx.fillText(t.text, sx.getPixelForValue(t.x), sy.getPixelForValue(t.y));
      }
      // legend
      if (spec.legend) {
        const mx = a.right - 88;
        spec.legend.forEach((item, i) => {
          const my = a.bottom - 29 + i * 14.5;
          ctx.strokeStyle = item.color;
          ctx.lineWidth = 1.2;
          ctx.beginPath();
          ctx.moveTo(mx - 11, my);
          ctx.lineTo(mx + 11, my);
          ctx.stroke();
          drawMarker(ctx, item.kind, mx, my, item.color);
          ctx.fillStyle = "#333";
          ctx.font = `8.5px ${FONT}`;
          ctx.textAlign = "left";
          ctx.textBaseline = "middle";
          ctx.fillText(item.text, mx + 18, my);
        });
      }
      ctx.restore();
    },
  };
}

function toDataset(s: Series) {
  const circle = s.kind === "circle";
  const square = s.kind === "square";
  return {
    data: s.xs.map((x, i) => ({ x, y: s.ys[i] })),
    borderColor: s.color,
    backgroundColor: s.color,
    borderWidth: s.width,
    borderDash: s.dash ?? [],
    tension: 0,
    pointRadius: circle ? 4 : square ? 4.1 : 0,
    pointStyle: square ? "rect" : "circle",
    pointBackgroundColor: square ? "#ffffff" : s.color,
    pointBorderColor: s.color,
    pointBorderWidth: square ? 1.2 : 1,
    fill: false,
  };
}

function Panel({ spec }: { spec: Spec }) {
  const ref = useRef<HTMLCanvasElement>(null);
  useEffect(() => {
    const el = ref.current;
    if (!el) return;
    const { canvas: cv, area } = spec;
    const datasets: any[] = [];
    if (spec.vline) {
      datasets.push({
        data: [{ x: VLINE_YEAR, y: spec.yMin }, { x: VLINE_YEAR, y: spec.yMax }],
        borderColor: COL.vline, borderWidth: 1.4, borderDash: [7, 4], pointRadius: 0, fill: false,
      });
    }
    spec.series.forEach((s) => datasets.push(toDataset(s)));
    const axisCommon = {
      type: "linear" as const,
      ticks: { display: false },
      grid: { display: true, drawOnChartArea: false, drawTicks: true, tickLength: 5, tickColor: "#111", tickWidth: 1.1 },
      border: { display: true, color: "#111", width: 1.5 },
    };
    const chart = new Chart(el, {
      type: "line",
      data: { datasets },
      options: {
        animation: false,
        responsive: false,
        events: [],
        layout: {
          autoPadding: false,
          padding: {
            left: area.l - cv.x - YW,
            top: area.t - cv.y,
            right: cv.x + cv.w - area.r,
            bottom: cv.y + cv.h - area.b - XH,
          },
        },
        plugins: { legend: { display: false }, tooltip: { enabled: false }, title: { display: false } },
        scales: {
          x: {
            ...axisCommon,
            min: spec.xMin,
            max: spec.xMax,
            afterBuildTicks: (s: any) => { s.ticks = spec.xTicks.map((v) => ({ value: v })); },
            afterFit: (s: any) => { s.height = XH; },
          },
          y: {
            ...axisCommon,
            min: spec.yMin,
            max: spec.yMax,
            afterBuildTicks: (s: any) => { s.ticks = spec.yTicks.map((v) => ({ value: v })); },
            afterFit: (s: any) => { s.width = YW; },
          },
        },
      } as any,
      plugins: [decorPlugin(spec)],
    });
    return () => chart.destroy();
  }, [spec]);
  const cv = spec.canvas;
  return (
    <canvas
      ref={ref}
      width={cv.w}
      height={cv.h}
      style={{ position: "absolute", left: cv.x, top: cv.y, width: cv.w, height: cv.h }}
    />
  );
}

export default function App() {
  return (
    <div style={{ position: "absolute", left: 0, top: 0, width: 1192, height: 1416, background: "#fff", overflow: "hidden" }}>
      {SPECS.map((s, i) => (
        <div
          key={"t" + i}
          style={{
            position: "absolute", left: s.titleCenter - 300, top: s.titleTop, width: 600, textAlign: "center",
            fontFamily: '"Liberation Serif", "Times New Roman", serif', fontSize: 28, lineHeight: "28px",
            letterSpacing: "0.3px", color: "#111", whiteSpace: "nowrap",
          }}
        >
          {s.title}
        </div>
      ))}
      {SPECS.map((s, i) => (
        <Panel key={i} spec={s} />
      ))}
    </div>
  );
}
